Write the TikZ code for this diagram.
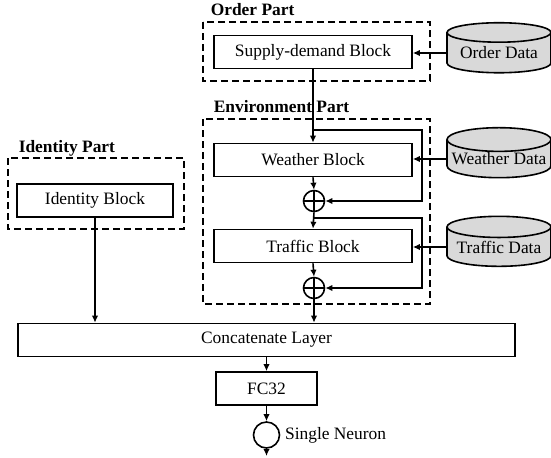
\documentclass[tikz,border=0pt]{standalone}
\usepackage{fontspec}
\setmainfont{Liberation Serif}
\usetikzlibrary{shapes.geometric,arrows.meta}
\begin{document}
\begin{tikzpicture}[x=0.5pt, y=-0.5pt, line width=0.8pt,
	font=\fontsize{8.7}{10}\selectfont,
	>={Latex[length=3.5pt,width=3.2pt]},
	block/.style={draw, inner sep=0pt, minimum height=16.5pt},
	data/.style={cylinder, shape border rotate=90, aspect=0.25, draw,
		fill=gray!30, minimum width=52pt, minimum height=25pt, inner sep=0pt},
	part/.style={dash pattern=on 3.5pt off 2pt},
	title/.style={anchor=base west, inner sep=0pt,
		font=\fontsize{8.7}{10}\selectfont\bfseries},
	plus/.style={circle, draw, minimum size=10.5pt, inner sep=0pt,
		path picture={\draw (path picture bounding box.north)
			-- (path picture bounding box.south)
			(path picture bounding box.west)
			-- (path picture bounding box.east);}}]
\useasboundingbox (0,0) rectangle (551,457);
% dashed parts
\draw[part] (203,22) rectangle (430,81);
\draw[part] (203,119) rectangle (430,304);
\draw[part] (8,158) rectangle (184,229);
\node[title] (orderpart) at (210,15) {Order Part};
\node[title] (envpart) at (213,112) {Environment Part};
\node[title] (idpart) at (18,152) {Identity Part};
% blocks
\node[block, minimum width=99pt] (supply) at (313,52) {Supply-demand Block};
\node[block, minimum width=99pt] (weather) at (313,160) {Weather Block};
\node[block, minimum width=99pt] (traffic) at (313,246) {Traffic Block};
\node[block, minimum width=78pt] (identity) at (95,200.5) {Identity Block};
\node[block, minimum width=248.5pt] (concat) at (266.5,340) {Concatenate Layer};
\node[block, minimum width=50.5pt] (fc) at (266.5,388.5) {FC32};
\node[plus] (plus1) at (314,201) {};
\node[plus] (plus2) at (314,288) {};
\node[circle, draw, minimum size=13pt, inner sep=0pt] (neuron) at (266.5,435) {};
\node[anchor=west, inner sep=2pt] (neuronlabel) at (neuron.east) {Single Neuron};
\coordinate (out) at (266.5,456);
% data sources
\foreach \n/\t/\y/\b in {order/Order Data/53/supply,
		weather/Weather Data/159/weather,
		traffic/Traffic Data/247/traffic}
{
	\node[data] (\n data) at (499,\y) {\t};
	\draw[->] (\n data.west) -- (\n data.west -| \b.east);
}
% residual paths
\coordinate (b1) at (314,130);
\coordinate (r1) at (422,130);
\coordinate (b2) at (314,218);
\coordinate (r2) at (422,218);
\draw[->] (supply.south) -- (weather.north);
\draw[->] (b1) -- (r1) |- (plus1.east);
\draw[->] (weather.south) -- (plus1.north);
\draw[->] (plus1.south) -- (traffic.north);
\draw[->] (b2) -- (r2) |- (plus2.east);
\draw[->] (traffic.south) -- (plus2.north);
\draw[->] (plus2.south) -- (plus2.south |- concat.north);
\draw[->] (identity.south) -- (identity.south |- concat.north);
\draw[->] (concat.south -| fc.north) -- (fc.north);
\draw[->] (fc.south) -- (neuron.north);
\draw[->] (neuron.south) -- (out);
\end{tikzpicture}
\end{document}
